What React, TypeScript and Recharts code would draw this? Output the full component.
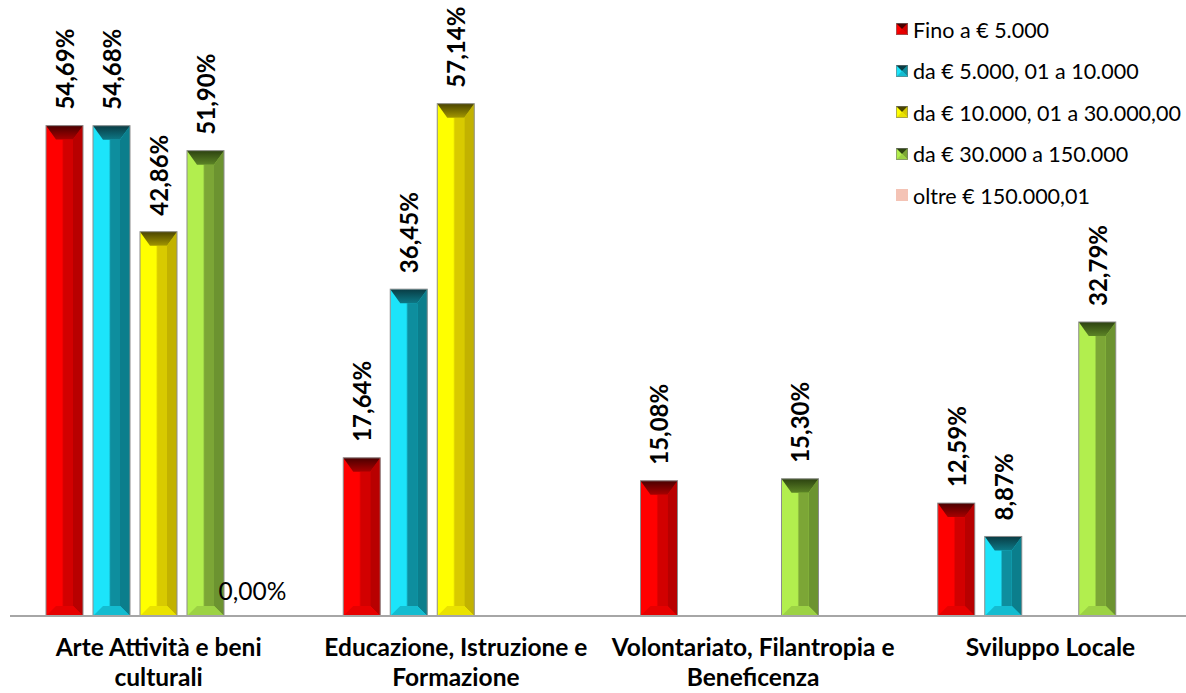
import React from "react";
import { Bar, BarChart, LabelList, XAxis, YAxis } from "recharts";

// ambiti di intervento (a capo con \n)
const categorie = [
  "Arte Attività e beni\nculturali",
  "Educazione, Istruzione e\nFormazione",
  "Volontariato, Filantropia e\nBeneficenza",
  "Sviluppo Locale"
];

// fasce di importo
const fasce = [
  "Fino a € 5.000",
  "da € 5.000, 01 a 10.000",
  "da € 10.000, 01 a 30.000,00",
  "da € 30.000 a 150.000",
  "oltre € 150.000,01"
];

const fino5000 = [54.69, 17.64, 15.08, 12.59];
const da5000 = [54.68, 36.45, null, 8.87];
const da10000 = [42.86, 57.14, null, null];
const da30000 = [51.9, null, 15.3, 32.79];
const oltre150000 = [0, null, null, null];

const serie = [fino5000, da5000, da10000, da30000, oltre150000];
const chiavi = ["s0", "s1", "s2", "s3", "s4"];

const data = categorie.map((nome, i) => {
  const row: Record<string, string | number | null> = { nome };
  serie.forEach((s, k) => {
    row[chiavi[k]] = s[i];
  });
  return row;
});

type Tono = {
  light: string;
  mid: string;
  right: string;
  topA: string;
  topB: string;
  bottom: string;
};

const toni: Tono[] = [
  { light: "#FF0000", mid: "#D20000", right: "#B80000", topA: "#4A0000", topB: "#A80000", bottom: "#E60000" },
  { light: "#1CE4FA", mid: "#0E8E9E", right: "#0B7E8C", topA: "#093C44", topB: "#0D7886", bottom: "#14BCD0" },
  { light: "#FFFF00", mid: "#D8CA00", right: "#C2B200", topA: "#4A4400", topB: "#A29600", bottom: "#EAE200" },
  { light: "#B2EE4E", mid: "#7CA636", right: "#6C9330", topA: "#2C4210", topB: "#5C8426", bottom: "#9CD244" },
  { light: "#F4C3B5", mid: "#F4C3B5", right: "#F4C3B5", topA: "#F4C3B5", topB: "#F4C3B5", bottom: "#F4C3B5" }
];

const fontFamily = "Lato, 'Noto Sans', sans-serif";

function pts(list: number[][]) {
  return list.map((p) => p.join(",")).join(" ");
}

function BarraBisello(props: any) {
  const { x, y, width: w, height: h, k } = props;
  if (!h || h <= 0) return null;
  const t = toni[k];
  const b = Math.min(10, w / 3);
  const bt = Math.min(14, h / 2);
  const bb = Math.min(10, h / 2);
  return (
    <g>
      <rect x={x} y={y} width={w} height={h} fill={t.light} />
      <rect x={x + b} y={y + bt} width={w - 2 * b} height={Math.max(0, h - bt - bb)} fill={`url(#faccia${k})`} />
      <polygon
        points={pts([[x + w, y], [x + w - b, y + bt], [x + w - b, y + h - bb], [x + w, y + h]])}
        fill={t.right}
      />
      <polygon
        points={pts([[x, y + h], [x + w, y + h], [x + w - b, y + h - bb], [x + b, y + h - bb]])}
        fill={t.bottom}
      />
      <polygon
        points={pts([[x, y], [x + w, y], [x + w - b, y + bt], [x + b, y + bt]])}
        fill={`url(#cima${k})`}
      />
      <rect x={x} y={y} width={w} height={h} fill="none" stroke="#8C8C8C" strokeWidth={1} />
    </g>
  );
}

function formatta(v: number) {
  return v.toFixed(2).replace(".", ",") + "%";
}

function Etichetta(props: any) {
  const { x, y, width, value } = props;
  if (value === null || value === undefined) return null;
  const cx = x + width / 2;
  if (value === 0) {
    return (
      <text x={cx} y={y - 26} textAnchor="middle" dominantBaseline="central" fontSize={24.5} fill="#000" fontFamily={fontFamily}>
        {formatta(value)}
      </text>
    );
  }
  const ly = y - 16;
  return (
    <text
      x={cx}
      y={ly}
      transform={`rotate(-90 ${cx} ${ly})`}
      textAnchor="start"
      dominantBaseline="central"
      fontSize={24}
      fontWeight="bold"
      fill="#000"
      fontFamily={fontFamily}
    >
      {formatta(value)}
    </text>
  );
}

function TickCategoria(props: any) {
  const { x, y, payload } = props;
  const righe = String(payload.value).split("\n");
  return (
    <g>
      {righe.map((r, i) => (
        <text
          key={i}
          x={x}
          y={y + 31.5 + i * 30}
          textAnchor="middle"
          fontSize={24.5}
          fontWeight="bold"
          fill="#000"
          fontFamily={fontFamily}
        >
          {r}
        </text>
      ))}
    </g>
  );
}

function IconaLegenda({ k }: { k: number }) {
  const t = toni[k];
  if (k === 4) return <rect x={0} y={0} width={12} height={12} fill={t.light} />;
  return (
    <g>
      <rect x={0} y={0} width={12} height={12} fill={t.light} />
      <polygon points="6,6 12,0 12,12" fill={t.mid} />
      <polygon points="0,12 12,12 6,6" fill={t.bottom} />
      <polygon points="0,0 12,0 6,6" fill={t.topA} />
      <rect x={0.5} y={0.5} width={11} height={11} fill="none" stroke="#7a7a7a" strokeWidth={0.6} />
    </g>
  );
}

function Legenda() {
  return (
    <div style={{ position: "absolute", left: 896, top: 9, fontFamily }}>
      {fasce.map((f, k) => (
        <div
          key={f}
          style={{ display: "flex", alignItems: "center", height: 41.5, fontSize: 21.5, color: "#000", whiteSpace: "nowrap" }}
        >
          <svg width={13} height={13} style={{ marginRight: 4 }}>
            <IconaLegenda k={k} />
          </svg>
          <span>{f}</span>
        </div>
      ))}
    </div>
  );
}

export default function App() {
  return (
    <div style={{ position: "absolute", left: 0, top: 0, width: 1186, height: 693, overflow: "hidden", background: "#fff" }}>
      <BarChart
        width={1199}
        height={693}
        data={data}
        margin={{ top: 78, right: 0, bottom: 0, left: 10 }}
        barSize={37}
        barGap={10}
      >
        <defs>
          {toni.map((t, k) => (
            <React.Fragment key={k}>
              <linearGradient id={`faccia${k}`} x1="0" y1="0" x2="1" y2="0">
                <stop offset="0%" stopColor={t.light} />
                <stop offset="35%" stopColor={t.light} />
                <stop offset="45%" stopColor={t.mid} />
                <stop offset="100%" stopColor={t.mid} />
              </linearGradient>
              <linearGradient id={`cima${k}`} x1="0" y1="0" x2="0" y2="1">
                <stop offset="0%" stopColor={t.topA} />
                <stop offset="100%" stopColor={t.topB} />
              </linearGradient>
            </React.Fragment>
          ))}
        </defs>
        <XAxis
          dataKey="nome"
          height={77}
          axisLine={{ stroke: "#A6A6A6", strokeWidth: 2 }}
          tickLine={false}
          tick={<TickCategoria />}
          interval={0}
        />
        <YAxis hide domain={[0, 60]} />
        {chiavi.map((c, k) => (
          <Bar
            key={c}
            dataKey={c}
            name={fasce[k]}
            fill={toni[k].light}
            isAnimationActive={false}
            shape={(p: any) => <BarraBisello {...p} k={k} />}
          >
            <LabelList dataKey={c} content={<Etichetta />} />
          </Bar>
        ))}
      </BarChart>
      <Legenda />
    </div>
  );
}
